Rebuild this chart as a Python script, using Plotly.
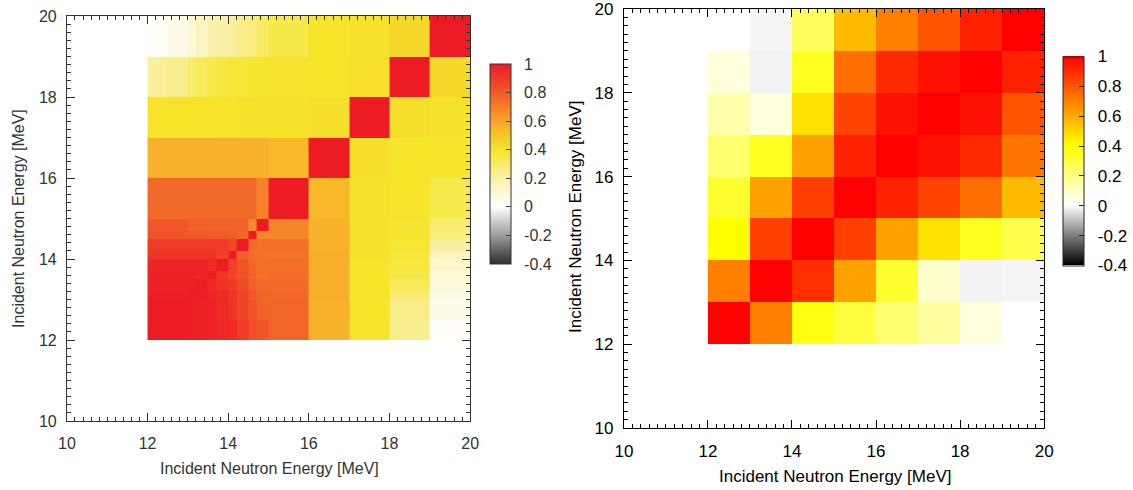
import plotly.graph_objects as go

# ---------------- data ----------------
# Left panel: non-uniform energy bins (MeV)
left_edges = [12, 12.5, 13.0, 13.2, 13.5, 13.7, 14.0, 14.2, 14.5, 14.7, 15, 16, 17, 18, 19, 20]
# rows: low energy (12-12.5) -> high energy (19-20); columns: same bins
left_corr = [
    [1.000, 0.997, 0.990, 0.985, 0.975, 0.960, 0.950, 0.900, 0.835, 0.810, 0.770, 0.550, 0.400, 0.240, 0.015],
    [0.997, 1.000, 0.990, 0.980, 0.975, 0.955, 0.930, 0.870, 0.825, 0.780, 0.770, 0.560, 0.400, 0.250, 0.050],
    [0.990, 0.990, 1.000, 0.990, 0.965, 0.955, 0.925, 0.870, 0.805, 0.770, 0.765, 0.570, 0.400, 0.290, 0.062],
    [0.986, 0.986, 0.986, 1.000, 0.960, 0.930, 0.910, 0.850, 0.790, 0.757, 0.760, 0.570, 0.400, 0.320, 0.078],
    [0.980, 0.980, 0.980, 0.970, 1.000, 0.920, 0.870, 0.830, 0.770, 0.740, 0.750, 0.570, 0.400, 0.350, 0.097],
    [0.977, 0.977, 0.977, 0.977, 0.950, 1.000, 0.880, 0.820, 0.770, 0.740, 0.745, 0.570, 0.400, 0.365, 0.117],
    [0.920, 0.920, 0.920, 0.920, 0.920, 0.880, 1.000, 0.780, 0.745, 0.730, 0.730, 0.565, 0.410, 0.370, 0.150],
    [0.900, 0.900, 0.900, 0.900, 0.900, 0.900, 0.860, 1.000, 0.760, 0.740, 0.740, 0.560, 0.410, 0.380, 0.213],
    [0.820, 0.820, 0.810, 0.810, 0.800, 0.800, 0.790, 0.760, 1.000, 0.680, 0.680, 0.555, 0.410, 0.390, 0.267],
    [0.816, 0.816, 0.780, 0.780, 0.780, 0.780, 0.780, 0.780, 0.670, 1.000, 0.680, 0.550, 0.410, 0.385, 0.290],
    [0.757, 0.757, 0.757, 0.757, 0.757, 0.757, 0.757, 0.757, 0.757, 0.690, 1.000, 0.535, 0.410, 0.400, 0.346],
    [0.560, 0.560, 0.560, 0.560, 0.560, 0.560, 0.560, 0.560, 0.560, 0.560, 0.530, 1.000, 0.420, 0.400, 0.400],
    [0.405, 0.405, 0.405, 0.405, 0.405, 0.405, 0.405, 0.410, 0.410, 0.410, 0.410, 0.420, 1.000, 0.420, 0.410],
    [0.220, 0.240, 0.290, 0.325, 0.345, 0.365, 0.380, 0.380, 0.390, 0.395, 0.397, 0.400, 0.415, 1.000, 0.440],
    [0.015, 0.057, 0.100, 0.145, 0.180, 0.200, 0.220, 0.250, 0.270, 0.310, 0.350, 0.400, 0.410, 0.440, 1.000],
]

# Right panel: 1 MeV bins
right_edges = [12, 13, 14, 15, 16, 17, 18, 19, 20]
right_corr = [
    [1.000, 0.700, 0.375, 0.300, 0.225, 0.150, 0.055, 0.000],
    [0.700, 1.000, 0.890, 0.620, 0.325, 0.080, -0.019, -0.016],
    [0.400, 0.850, 1.000, 0.850, 0.620, 0.470, 0.350, 0.280],
    [0.325, 0.620, 0.850, 1.000, 0.920, 0.840, 0.740, 0.560],
    [0.225, 0.350, 0.620, 0.920, 1.000, 0.960, 0.900, 0.720],
    [0.130, 0.055, 0.470, 0.840, 0.960, 1.000, 0.960, 0.800],
    [0.055, -0.020, 0.350, 0.740, 0.900, 0.960, 1.000, 0.920],
    [0.000, -0.015, 0.250, 0.560, 0.700, 0.800, 0.920, 1.000],
]

cb_tickvals = [-0.4, -0.2, 0, 0.2, 0.4, 0.6, 0.8, 1]
cb_ticktext = ["-0.4", "-0.2", "0", "0.2", "0.4", "0.6", "0.8", "1"]
axis_tickvals = [10, 12, 14, 16, 18, 20]
axis_ticktext = ["10", "12", "14", "16", "18", "20"]
axis_title = "Incident Neutron Energy [MeV]"
zmin, zmax = -0.4, 1.0

# ---------------- styles ----------------
W, H = 1133, 490
FONT = "Liberation Sans, Arial, Helvetica, sans-serif"
PAD = "\u00a0\u00a0"


def n(v):
    return (v - zmin) / (zmax - zmin)


left_scale = [
    [n(-0.4), "#2E2E2E"], [n(-0.2), "#9C9C9C"], [n(0.0), "#FFFFFF"],
    [n(0.2), "#FAF0A8"], [n(0.4), "#F6E52A"], [n(0.6), "#F7A42A"],
    [n(0.8), "#F15A29"], [n(1.0), "#ED1C24"],
]
right_scale = [
    [n(-0.4), "#000000"], [n(0.0), "#FFFFFF"], [n(0.4), "#FFFF00"], [n(1.0), "#FF0000"],
]

cb_text_padded = [PAD + t for t in cb_ticktext]

fig = go.Figure()

fig.add_trace(go.Heatmap(
    x=left_edges, y=left_edges, z=left_corr,
    zmin=zmin, zmax=zmax, colorscale=left_scale,
    xaxis="x", yaxis="y", hoverinfo="skip",
    colorbar=dict(
        x=491 / W, xanchor="left", y=1 - 164 / H, yanchor="middle",
        len=200, lenmode="pixels", thickness=21, thicknessmode="pixels",
        xpad=0, ypad=0, outlinewidth=1, outlinecolor="#333333",
        tickmode="array", tickvals=cb_tickvals, ticktext=cb_text_padded,
        ticks="inside", ticklen=5, tickcolor="#444444",
        tickfont=dict(family=FONT, size=16, color="#333333"),
    ),
))

fig.add_trace(go.Heatmap(
    x=right_edges, y=right_edges, z=right_corr,
    zmin=zmin, zmax=zmax, colorscale=right_scale,
    xaxis="x2", yaxis="y2", hoverinfo="skip",
    colorbar=dict(
        x=1065 / W, xanchor="left", y=1 - 161 / H, yanchor="middle",
        len=209, lenmode="pixels", thickness=21, thicknessmode="pixels",
        xpad=0, ypad=0, outlinewidth=1, outlinecolor="#222222",
        tickmode="array", tickvals=cb_tickvals, ticktext=cb_text_padded,
        ticks="inside", ticklen=5, tickcolor="#222222",
        tickfont=dict(family=FONT, size=17, color="#000000"),
    ),
))


def axis(domain, anchor, color, size, standoff):
    return dict(
        domain=domain, anchor=anchor, range=[10, 20],
        tickmode="array", tickvals=axis_tickvals, ticktext=axis_ticktext,
        ticks="inside", ticklen=8, tickwidth=1, tickcolor=color,
        showline=True, linewidth=1, linecolor=color, mirror="allticks",
        showgrid=False, zeroline=False, automargin=False,
        ticklabeloverflow="allow", ticklabelstandoff=standoff,
        tickfont=dict(family=FONT, size=size, color=color),
        minor=dict(tick0=10, dtick=0.2, ticks="inside", ticklen=4,
                   tickwidth=1, tickcolor=color, showgrid=False),
    )


xa = axis([67 / W, 471 / W], "y", "#333333", 16, 8)
ya = axis([1 - 421 / H, 1 - 16 / H], "x", "#333333", 16, 6)
xa2 = axis([625 / W, 1046 / W], "y2", "#000000", 17, 8)
ya2 = axis([1 - 428 / H, 1 - 9 / H], "x2", "#000000", 17, 6)

fig.update_layout(
    width=W, height=H,
    margin=dict(l=0, r=0, t=0, b=0),
    paper_bgcolor="white", plot_bgcolor="white",
    font=dict(family=FONT),
    xaxis=xa, yaxis=ya, xaxis2=xa2, yaxis2=ya2,
    showlegend=False,
    annotations=[
        dict(text=axis_title, xref="paper", yref="paper", x=270 / W, y=1 - 468 / H,
             xanchor="center", yanchor="middle", showarrow=False,
             font=dict(family=FONT, size=16, color="#333333")),
        dict(text=axis_title, xref="paper", yref="paper", x=836 / W, y=1 - 476 / H,
             xanchor="center", yanchor="middle", showarrow=False,
             font=dict(family=FONT, size=17, color="#000000")),
        dict(text=axis_title, xref="paper", yref="paper", x=18 / W, y=1 - 218 / H,
             xanchor="center", yanchor="middle", showarrow=False, textangle=-90,
             font=dict(family=FONT, size=16, color="#333333")),
        dict(text=axis_title, xref="paper", yref="paper", x=576 / W, y=1 - 217 / H,
             xanchor="center", yanchor="middle", showarrow=False, textangle=-90,
             font=dict(family=FONT, size=17, color="#000000")),
    ],
)

fig.write_html("out.html")
